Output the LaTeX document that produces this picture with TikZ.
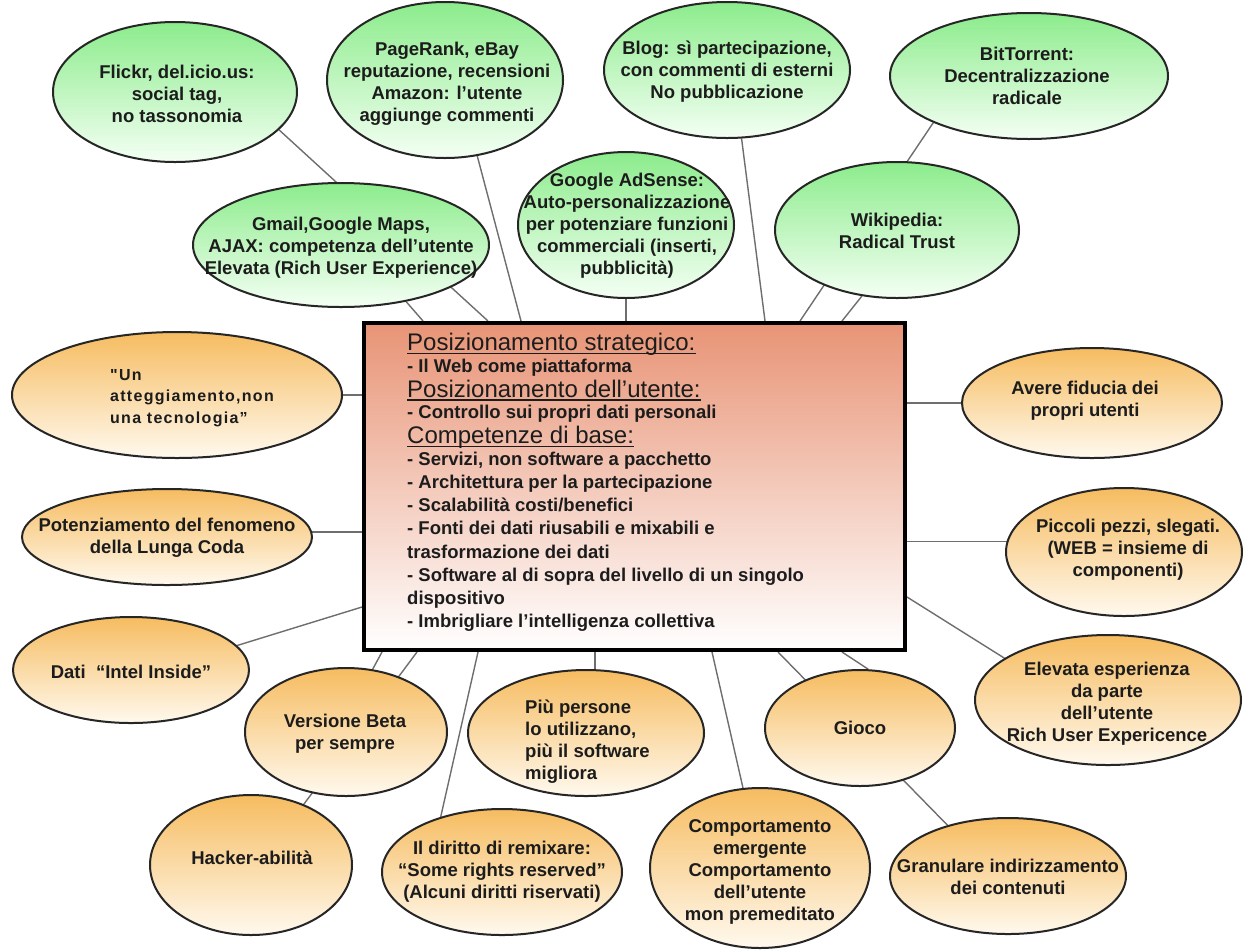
\documentclass[tikz,border=0pt]{standalone}
\usepackage{fontspec}
\setmainfont{Liberation Sans}
\newfontfamily\trackedf{Liberation Sans}[LetterSpace=8]
\usetikzlibrary{shapes.geometric}
\pgfdeclarelayer{bg}
\pgfsetlayers{bg,main}
\definecolor{gtop}{RGB}{140,236,140}
\definecolor{gbot}{RGB}{244,255,244}
\definecolor{otop}{RGB}{246,188,96}
\definecolor{obot}{RGB}{255,249,238}
\definecolor{rtop}{RGB}{232,148,118}
\definecolor{connc}{RGB}{110,110,110}
\definecolor{txtc}{RGB}{28,28,28}
\newcommand\etf{\fontsize{18.5}{22}\selectfont\bfseries}
\newcommand\hdf{\fontsize{24}{26}\selectfont}
\tikzset{
  conn/.style={draw=connc, line width=1.4pt},
  gel/.style={ellipse, draw=black!85, line width=2pt, top color=gtop, bottom color=gbot, inner sep=0pt},
  oel/.style={ellipse, draw=black!85, line width=2pt, top color=otop, bottom color=obot, inner sep=0pt},
  etxt/.style={font=\etf, text=txtc, align=center, inner sep=0pt},
  ltxt/.style={font=\etf, text=txtc, align=left, inner sep=0pt, anchor=west},
  bline/.style={font=\etf, text=txtc, inner sep=0pt, anchor=base west},
  hline/.style={font=\hdf, text=txtc, inner sep=0pt, anchor=base west},
  ulst/.style={draw=txtc, line width=1.5pt},
}
\begin{document}
\begin{tikzpicture}[x=1pt,y=-1pt]
\useasboundingbox (0,0) rectangle (1246,951);
% central box
\node[draw=black, line width=4pt, top color=rtop, bottom color=white, minimum width=541pt, minimum height=327pt, inner sep=0pt, anchor=north west] (rect) at (362,321) {};
\node[hline] (h1) at (407,350.5) {Posizionamento strategico:};
\node[bline] (b1) at (407,372) {- Il Web come piattaforma};
\node[hline] (h2) at (407,397) {Posizionamento dell’utente:};
\node[bline] (b2) at (407,418.4) {- Controllo sui propri dati personali};
\node[hline] (h3) at (407,443.5) {Competenze di base:};
\node[bline] (b3) at (407,465) {- Servizi, non software a pacchetto};
\node[bline] (b4) at (407,488) {- Architettura per la partecipazione};
\node[bline] (b5) at (407,511.5) {- Scalabilità costi/benefici};
\node[bline] (b6) at (407,534.7) {- Fonti dei dati riusabili e mixabili e};
\node[bline] (b7) at (407,558) {trasformazione dei dati};
\node[bline] (b8) at (407,581) {- Software al di sopra del livello di un singolo};
\node[bline] (b9) at (407,604.5) {dispositivo};
\node[bline] (b10) at (407,627.7) {- Imbrigliare l’intelligenza collettiva};
\draw[ulst] ([yshift=-3pt]h1.base west) -- ([yshift=-3pt]h1.base east);
\draw[ulst] ([yshift=-3pt]h2.base west) -- ([yshift=-3pt]h2.base east);
\draw[ulst] ([yshift=-3pt]h3.base west) -- ([yshift=-3pt]h3.base east);
% green ellipses
\node[gel, minimum width=244pt, minimum height=140pt] (flickr) at (175,92) {};
\node[etxt] (flickrT) at (177,94) {Flickr, del.icio.us:\\social tag,\\no tassonomia};
\node[gel, minimum width=236pt, minimum height=156pt] (pagerank) at (445,80) {};
\node[etxt] (pagerankT) at (447,84) {PageRank, eBay\\reputazione, recensioni\\Amazon: l’utente\\aggiunge commenti};
\node[gel, minimum width=246pt, minimum height=136pt] (blog) at (727,70) {};
\node[etxt] (blogT) at (727,72) {Blog: sì partecipazione,\\con commenti di esterni\\No pubblicazione};
\node[gel, minimum width=278pt, minimum height=126pt] (bittor) at (1029,76) {};
\node[etxt] (bittorT) at (1027,76) {BitTorrent:\\Decentralizzazione\\radicale};
\node[gel, minimum width=296pt, minimum height=124pt] (gmail) at (341,245) {};
\node[etxt] (gmailT) at (341,248) {Gmail,Google Maps,\\AJAX: competenza dell’utente\\Elevata (Rich User Experience)};
\node[gel, minimum width=216pt, minimum height=146pt] (adsense) at (626,225) {};
\node[etxt] (adsenseT) at (627,226) {Google AdSense:\\Auto-personalizzazione\\per potenziare funzioni\\commerciali (inserti,\\pubblicità)};
\node[gel, minimum width=244pt, minimum height=136pt] (wiki) at (897,230) {};
\node[etxt] (wikiT) at (897,231) {Wikipedia:\\Radical Trust};
% orange ellipses
\node[oel, minimum width=330pt, minimum height=126pt] (atteg) at (177,395) {};
\node[ltxt, font=\trackedf\fontsize{16}{21.5}\selectfont\bfseries] (attegT) at (110,398) {"Un\\atteggiamento,non\\una tecnologia”};
\node[oel, minimum width=290pt, minimum height=96pt] (poten) at (167,537) {};
\node[etxt] (potenT) at (167,538) {Potenziamento del fenomeno\\della Lunga Coda};
\node[oel, minimum width=236pt, minimum height=106pt] (dati) at (131,670) {};
\node[etxt] (datiT) at (131,672) {Dati\ \ “Intel Inside”};
\node[oel, minimum width=202pt, minimum height=128pt] (versione) at (346,732) {};
\node[etxt] (versioneT) at (345,734) {Versione Beta\\per sempre};
\node[oel, minimum width=202pt, minimum height=140pt] (hacker) at (251,865) {};
\node[etxt] (hackerT) at (252,858) {Hacker-abilità};
\node[oel, minimum width=240pt, minimum height=126pt] (diritto) at (502,872) {};
\node[etxt] (dirittoT) at (502,872) {Il diritto di remixare:\\“Some rights reserved”\\(Alcuni diritti riservati)};
\node[oel, minimum width=236pt, minimum height=126pt] (piu) at (586,733) {};
\node[ltxt] (piuT) at (525,742) {Più persone\\lo utilizzano,\\più il software\\migliora};
\node[oel, minimum width=220pt, minimum height=160pt] (comport) at (760,868) {};
\node[etxt] (comportT) at (760,872) {Comportamento\\emergente\\Comportamento\\dell’utente\\mon premeditato};
\node[oel, minimum width=190pt, minimum height=116pt] (gioco) at (860,728) {};
\node[etxt] (giocoT) at (860,728) {Gioco};
\node[oel, minimum width=266pt, minimum height=130pt] (elev) at (1108,700) {};
\node[etxt] (elevT) at (1107,704) {Elevata esperienza\\da parte\\dell’utente\\Rich User Expericence};
\node[oel, minimum width=236pt, minimum height=116pt] (granul) at (1008,876) {};
\node[etxt] (granulT) at (1008,877) {Granulare indirizzamento\\dei contenuti};
\node[oel, minimum width=260pt, minimum height=110pt] (avere) at (1092,403) {};
\node[etxt] (avereT) at (1085,401) {Avere fiducia dei\\propri utenti};
\node[oel, minimum width=236pt, minimum height=128pt] (piccoli) at (1124,552) {};
\node[etxt] (piccoliT) at (1128,550) {Piccoli pezzi, slegati.\\(WEB = insieme di\\componenti)};
% connectors behind
\begin{pgfonlayer}{bg}
\fill[white] (0,0) rectangle (1246,951);
\draw[conn] (flickr.-20) -- ([xshift=126pt]rect.north west);
\draw[conn] (gmail.-41) -- ([xshift=61pt]rect.north west);
\draw[conn] (pagerank.-67) -- ([xshift=159pt]rect.north west);
\draw[conn] (adsense.south) -- (adsense.south |- rect.north);
\draw[conn] (blog.-78) -- ([xshift=403pt]rect.north west);
\draw[conn] (wiki.242) -- ([xshift=480pt]rect.north west);
\draw[conn] (bittor.206) -- ([xshift=438pt]rect.north west);
\draw[conn] (atteg.east) -- (atteg.east -| rect.west);
\draw[conn] (poten.2) -- (poten.2 -| rect.west);
\draw[conn] (dati.13) -- ([yshift=-286pt]rect.north west);
\draw[conn] (versione.67) -- ([xshift=20pt]rect.south west);
\draw[conn] (hacker.49) -- ([xshift=55pt]rect.south west);
\draw[conn] (diritto.138) -- ([xshift=116pt]rect.south west);
\draw[conn] (piu.82) -- (piu.82 |- rect.south);
\draw[conn] (comport.102) -- ([xshift=350pt]rect.south west);
\draw[conn] (gioco.82) -- ([xshift=480pt]rect.south west);
\draw[conn] (granul.140) -- ([xshift=416pt]rect.south west);
\draw[conn] (elev.158) -- ([yshift=-276pt]rect.north east);
\draw[conn] (avere.west) -- (avere.west -| rect.east);
\draw[conn] (piccoli.175) -- (piccoli.175 -| rect.east);
\end{pgfonlayer}
\end{tikzpicture}
\end{document}
